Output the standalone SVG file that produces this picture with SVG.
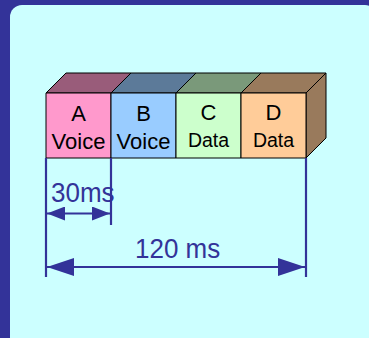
<svg xmlns="http://www.w3.org/2000/svg" width="369" height="338" viewBox="0 0 369 338">
  <style>
    .face { stroke: #000; stroke-width: 1; stroke-linejoin: round; }
    .lbl { font-family: "Liberation Sans", Arial, sans-serif; fill: #000; text-anchor: middle; }
    .big { font-size: 22px; }
    .small { font-size: 19.5px; }
    .dim { stroke: #333399; stroke-width: 2.2; fill: none; }
    .dimtext { font-family: "Liberation Sans", Arial, sans-serif; font-size: 26px; fill: #333399; }
  </style>
  <defs>
    <marker id="headS" viewBox="0 0 18 14" refX="18" refY="7" markerWidth="18" markerHeight="14" markerUnits="userSpaceOnUse" orient="auto-start-reverse">
      <path d="M0,0 L18,7 L0,14 Z" fill="#333399"/>
    </marker>
    <marker id="headL" viewBox="0 0 27 18" refX="27" refY="9" markerWidth="27" markerHeight="18" markerUnits="userSpaceOnUse" orient="auto-start-reverse">
      <path d="M0,0 L27,9 L0,18 Z" fill="#333399"/>
    </marker>
  </defs>

  <!-- frame -->
  <rect x="0" y="0" width="369" height="338" fill="#333399"/>
  <rect x="10" y="5" width="367" height="345" rx="12" ry="12" fill="#CCFFFF"/>

  <!-- packet blocks -->
  <g id="blockA">
    <polygon class="face" points="46,93 66,73 131,73 111,93" fill="#995C7A"/>
    <rect class="face" x="46" y="93" width="65" height="65" fill="#FF99CC"/>
    <text class="lbl big" x="78.5" y="120.5">A</text>
    <text class="lbl big" x="78.5" y="148.5">Voice</text>
  </g>
  <g id="blockB">
    <polygon class="face" points="111,93 131,73 196,73 176,93" fill="#5C7A99"/>
    <rect class="face" x="111" y="93" width="65" height="65" fill="#99CCFF"/>
    <text class="lbl big" x="143.5" y="120.5">B</text>
    <text class="lbl big" x="143.5" y="148.5">Voice</text>
  </g>
  <g id="blockC">
    <polygon class="face" points="176,93 196,73 261,73 241,93" fill="#7A997A"/>
    <rect class="face" x="176" y="93" width="65" height="65" fill="#CCFFCC"/>
    <text class="lbl big" x="208.5" y="120">C</text>
    <text class="lbl small" x="208.5" y="146.5">Data</text>
  </g>
  <g id="blockD">
    <polygon class="face" points="241,93 261,73 326,73 306,93" fill="#997A5C"/>
    <polygon class="face" points="306,93 326,73 326,138 306,158" fill="#997A5C"/>
    <rect class="face" x="241" y="93" width="65" height="65" fill="#FFCC99"/>
    <text class="lbl big" x="273.5" y="120">D</text>
    <text class="lbl small" x="273.5" y="146.5">Data</text>
  </g>

  <!-- dimension lines -->
  <g id="connectors">
    <line class="dim" x1="46" y1="158" x2="46" y2="277"/>
    <line class="dim" x1="111" y1="158" x2="111" y2="225"/>
    <line class="dim" x1="306" y1="158" x2="306" y2="277"/>
    <line class="dim" x1="47" y1="213.5" x2="110" y2="213.5" marker-start="url(#headS)" marker-end="url(#headS)"/>
    <line class="dim" x1="47" y1="267" x2="305" y2="267" marker-start="url(#headL)" marker-end="url(#headL)"/>
  </g>

  <g id="labels">
    <text class="dimtext" x="51" y="202.5" transform="translate(0,202.5) scale(1,1.07) translate(0,-202.5)">30ms</text>
    <text class="dimtext" x="135" y="258" transform="translate(0,258) scale(1,1.07) translate(0,-258)">120 ms</text>
  </g>
</svg>
